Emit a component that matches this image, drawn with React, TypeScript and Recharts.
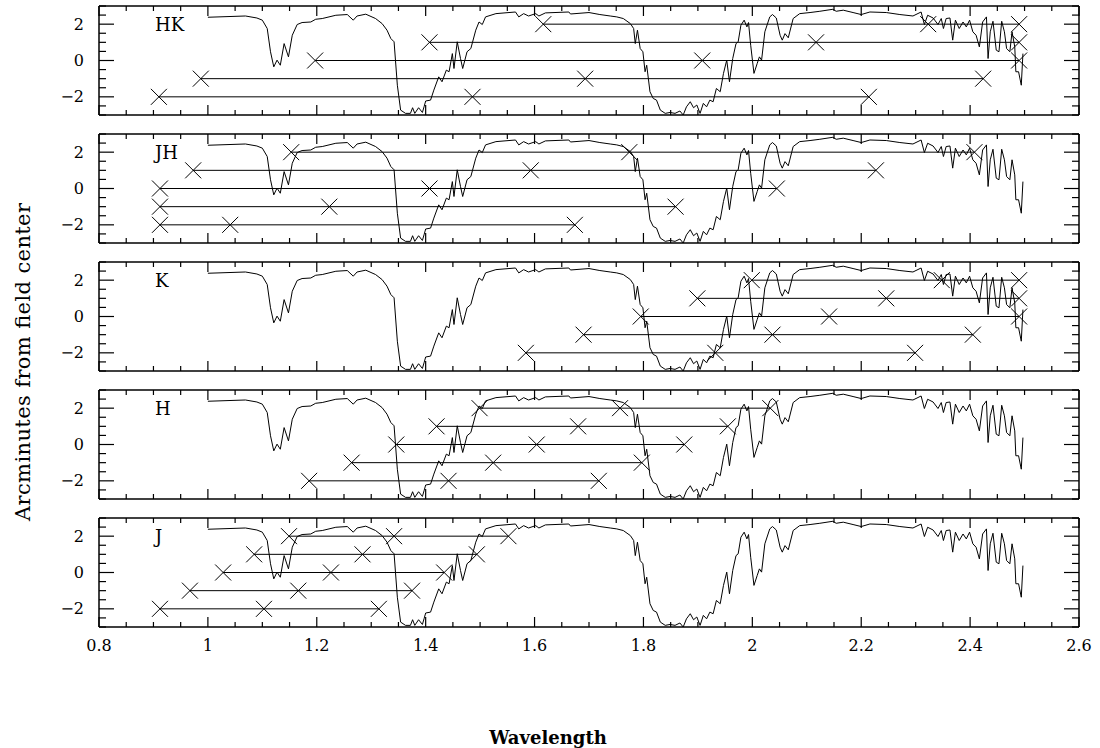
import React from "react";
import {
  ComposedChart,
  Line,
  Scatter,
  XAxis,
  YAxis,
  ReferenceDot,
} from "recharts";

// Sky transmission trace, scaled into the offset axis units
const transWave = [
  1.0, 1.069, 1.09, 1.1, 1.109, 1.115, 1.121, 1.127, 1.133, 1.14, 1.148, 1.155,
  1.164, 1.173, 1.189, 1.198, 1.21, 1.235, 1.256, 1.267, 1.274, 1.29, 1.308,
  1.32, 1.329, 1.336, 1.342, 1.348, 1.354, 1.363, 1.372, 1.376, 1.38, 1.387,
  1.394, 1.397, 1.4, 1.409, 1.415, 1.424, 1.43, 1.438, 1.443, 1.449, 1.452,
  1.458, 1.464, 1.468, 1.476, 1.483, 1.492, 1.498, 1.504, 1.51, 1.529, 1.565,
  1.571, 1.58, 1.589, 1.602, 1.608, 1.62, 1.663, 1.666, 1.7, 1.72, 1.739, 1.751,
  1.763, 1.776, 1.782, 1.785, 1.789, 1.794, 1.799, 1.803, 1.806, 1.812, 1.818,
  1.824, 1.831, 1.84, 1.849, 1.858, 1.867, 1.873, 1.879, 1.886, 1.892, 1.898,
  1.904, 1.91, 1.916, 1.922, 1.928, 1.934, 1.941, 1.947, 1.953, 1.958, 1.964,
  1.97, 1.974, 1.979, 1.985, 1.99, 1.993, 1.997, 2.003, 2.009, 2.013, 2.017,
  2.023, 2.032, 2.037, 2.044, 2.051, 2.055, 2.06, 2.066, 2.075, 2.087, 2.106,
  2.124, 2.148, 2.154, 2.167, 2.185, 2.2, 2.216, 2.246, 2.271, 2.295, 2.31,
  2.316, 2.322, 2.332, 2.341, 2.347, 2.351, 2.356, 2.363, 2.368, 2.373, 2.38,
  2.387, 2.393, 2.399, 2.405, 2.411, 2.417, 2.423, 2.43, 2.433, 2.437, 2.442,
  2.448, 2.453, 2.458, 2.463, 2.467, 2.473, 2.477, 2.482, 2.484, 2.489, 2.494,
  2.497,
];
const transLevel = [
  2.38, 2.45, 2.34, 2.22, 1.76, 0.48, -0.35, 0.02, -0.26, 0.93, 0.2, 1.39, 1.98,
  2.09, 2.12, 2.27, 2.31, 2.49, 2.53, 2.22, 2.45, 2.55, 2.31, 2.03, 1.67, 1.21,
  1.03, -1.36, -2.73, -2.91, -2.91, -2.6, -2.91, -2.6, -2.86, -2.55, -2.23,
  -2.18, -1.63, -0.9, -1.17, -0.53, -0.62, 0.38, -0.44, 1.03, 0.11, -0.44, 0.48,
  0.66, 1.67, 2.12, 1.98, 2.4, 2.58, 2.67, 2.4, 2.58, 2.45, 2.58, 2.45, 2.62,
  2.67, 2.56, 2.64, 2.53, 2.45, 2.4, 2.31, 2.03, 1.76, 0.93, 1.67, 0.66, 0.48,
  -0.62, -0.26, -1.72, -2.09, -2.18, -2.73, -2.91, -2.86, -2.91, -2.78, -3.0,
  -2.55, -2.27, -2.6, -2.45, -2.91, -2.36, -2.55, -2.18, -2.27, -1.54, -1.72,
  -0.71, 0.02, -1.17, 0.11, 0.93, 1.03, 1.94, 2.22, 1.85, 2.09, 0.84, -0.71,
  -0.16, 0.2, 0.02, 1.58, 2.4, 2.53, 2.34, 1.39, 1.12, 1.48, 1.25, 2.31, 2.58,
  2.64, 2.71, 2.82, 2.71, 2.77, 2.64, 2.53, 2.67, 2.64, 2.53, 2.45, 2.67, 1.98,
  2.49, 2.34, 1.98, 2.31, 1.76, 2.31, 2.34, 1.12, 2.22, 1.76, 2.12, 1.85, 2.22,
  1.58, 1.39, 0.75, 2.12, 2.4, 0.11, 1.58, 2.16, 0.57, 0.48, 2.16, 1.58, 0.66,
  0.48, 1.58, 0.75, -0.62, -0.62, -1.36, 0.38,
];

const panelNames = ["HK", "JH", "K", "H", "J"];
const rowOffsets = [2, 1, 0, -1, -2];

// marker wavelengths for each slit row, top row first
const hkMarks = [
  [1.616, 2.323, 2.49],
  [1.407, 2.117, 2.49],
  [1.197, 1.908, 2.49],
  [0.987, 1.693, 2.424],
  [0.91, 1.486, 2.214],
];
const jhMarks = [
  [1.153, 1.774, 2.408],
  [0.973, 1.593, 2.227],
  [0.912, 1.407, 2.045],
  [0.912, 1.223, 1.859],
  [0.912, 1.041, 1.674],
];
const kMarks = [
  [1.999, 2.348, 2.49],
  [1.899, 2.246, 2.49],
  [1.795, 2.141, 2.49],
  [1.69, 2.037, 2.405],
  [1.584, 1.932, 2.299],
];
const hMarks = [
  [1.499, 1.757, 2.033],
  [1.42, 1.68, 1.955],
  [1.346, 1.604, 1.875],
  [1.264, 1.524, 1.797],
  [1.186, 1.442, 1.718],
];
const jMarks = [
  [1.149, 1.342, 1.552],
  [1.085, 1.284, 1.494],
  [1.028, 1.226, 1.434],
  [0.967, 1.166, 1.375],
  [0.912, 1.103, 1.314],
];
const panelMarks = [hkMarks, jhMarks, kMarks, hMarks, jMarks];

const xMajorTicks = [0.8, 1, 1.2, 1.4, 1.6, 1.8, 2, 2.2, 2.4, 2.6];
const yMajorTicks = [-2, 0, 2];

const xTicks = Array.from({ length: 37 }, (_, i) => Math.round((0.8 + i * 0.05) * 100) / 100);
const yTicks = Array.from({ length: 13 }, (_, i) => -3 + i * 0.5);

const spectrum = transWave.map((x, i) => ({ x, y: transLevel[i] }));

const PLOT_LEFT = 99;
const PLOT_RIGHT = 1079;
const PANEL_H = 109;
const PANEL_STEP = 128;
const FIRST_TOP = 6;
const AXIS = 1; // thickness reserved by each axis
const FONT = "'DejaVu Serif', serif";

const isMajor = (v: number, list: number[]) => list.some((m) => Math.abs(m - v) < 1e-6);
const fmt = (v: number) => (v < 0 ? "\u2212" + Math.abs(v) : String(v));

function XTick(props: any) {
  const { x, y, payload, side, showLabel } = props;
  const major = isMajor(payload.value, xMajorTicks);
  const len = major ? 10 : 5;
  const dir = side === "top" ? 1 : -1;
  return (
    <g>
      <line x1={x} x2={x} y1={y} y2={y + dir * len} stroke="#000" strokeWidth={1.2} />
      {showLabel && major && side === "bottom" ? (
        <text x={x} y={y + 24} textAnchor="middle" fontFamily={FONT} fontSize={16} fill="#000">
          {fmt(payload.value)}
        </text>
      ) : null}
    </g>
  );
}

function YTick(props: any) {
  const { x, y, payload, side } = props;
  const major = isMajor(payload.value, yMajorTicks);
  const len = major ? 15 : 7;
  const dir = side === "left" ? 1 : -1;
  return (
    <g>
      <line x1={x} x2={x + dir * len} y1={y} y2={y} stroke="#000" strokeWidth={1.2} />
      {major && side === "left" ? (
        <text x={x - 15} y={y} textAnchor="end" dominantBaseline="central" fontFamily={FONT} fontSize={16} fill="#000">
          {fmt(payload.value)}
        </text>
      ) : null}
    </g>
  );
}

function XMark(props: any) {
  const { cx, cy } = props;
  const s = 8;
  return (
    <path
      d={`M${cx - s},${cy - s}L${cx + s},${cy + s}M${cx - s},${cy + s}L${cx + s},${cy - s}`}
      stroke="#000"
      strokeWidth={1}
      fill="none"
    />
  );
}

function Panel({ index }: { index: number }) {
  const last = index === panelNames.length - 1;
  const top = FIRST_TOP + index * PANEL_STEP;
  const pad = 4;
  const bottomPad = last ? 40 : pad;
  const frame = { stroke: "#000", strokeWidth: 1.5 };
  return (
    <div style={{ position: "absolute", left: 0, top: top - pad }}>
      <ComposedChart
        width={1100}
        height={PANEL_H + pad + bottomPad}
        margin={{
          top: pad - AXIS,
          right: 1100 - PLOT_RIGHT - AXIS,
          bottom: bottomPad - AXIS,
          left: PLOT_LEFT - AXIS,
        }}
      >
        <XAxis
          dataKey="x"
          type="number"
          domain={[0.8, 2.6]}
          allowDataOverflow
          ticks={xTicks}
          interval={0}
          height={AXIS}
          tickSize={0}
          tickMargin={0}
          tickLine={false}
          axisLine={frame}
          tick={(p: any) => <XTick {...p} side="bottom" showLabel={last} />}
        />
        <XAxis
          xAxisId="top"
          orientation="top"
          dataKey="x"
          type="number"
          domain={[0.8, 2.6]}
          allowDataOverflow
          ticks={xTicks}
          interval={0}
          height={AXIS}
          tickSize={0}
          tickMargin={0}
          tickLine={false}
          axisLine={frame}
          tick={(p: any) => <XTick {...p} side="top" />}
        />
        <YAxis
          dataKey="y"
          type="number"
          domain={[-3, 3]}
          allowDataOverflow
          ticks={yTicks}
          interval={0}
          width={AXIS}
          tickSize={0}
          tickMargin={0}
          tickLine={false}
          axisLine={frame}
          tick={(p: any) => <YTick {...p} side="left" />}
        />
        <YAxis
          yAxisId="right"
          orientation="right"
          dataKey="y"
          type="number"
          domain={[-3, 3]}
          allowDataOverflow
          ticks={yTicks}
          interval={0}
          width={AXIS}
          tickSize={0}
          tickMargin={0}
          tickLine={false}
          axisLine={frame}
          tick={(p: any) => <YTick {...p} side="right" />}
        />
        <Line
          data={spectrum}
          dataKey="y"
          type="linear"
          dot={false}
          stroke="#000"
          strokeWidth={1}
          isAnimationActive={false}
        />
        {panelMarks[index].map((row, r) => (
          <Scatter
            key={r}
            data={row.map((x) => ({ x, y: rowOffsets[r] }))}
            dataKey="y"
            line={{ stroke: "#000", strokeWidth: 1 }}
            lineType="joint"
            shape={(p: any) => <XMark {...p} />}
            isAnimationActive={false}
          />
        ))}
        <ReferenceDot
          x={0.903}
          y={2}
          r={0}
          shape={(p: any) => (
            <text x={p.cx} y={p.cy} dominantBaseline="central" fontFamily={FONT} fontSize={18} fill="#000">
              {panelNames[index]}
            </text>
          )}
        />
      </ComposedChart>
    </div>
  );
}

export default function App() {
  return (
    <div style={{ position: "absolute", left: 0, top: 0, width: 1100, height: 748, background: "#fff" }}>
      {panelNames.map((_, i) => (
        <Panel key={i} index={i} />
      ))}
      <svg width={1100} height={748} style={{ position: "absolute", left: 0, top: 0, pointerEvents: "none" }}>
        <text
          transform="translate(23,362) rotate(-90)"
          textAnchor="middle"
          dominantBaseline="central"
          fontFamily={FONT}
          fontSize={21}
          textLength={318}
          fill="#000"
        >
          Arcminutes from field center
        </text>
        <text
          x={548}
          y={737}
          textAnchor="middle"
          dominantBaseline="central"
          fontFamily={FONT}
          fontSize={18}
          fontWeight="bold"
          fill="#000"
        >
          Wavelength
        </text>
      </svg>
    </div>
  );
}
